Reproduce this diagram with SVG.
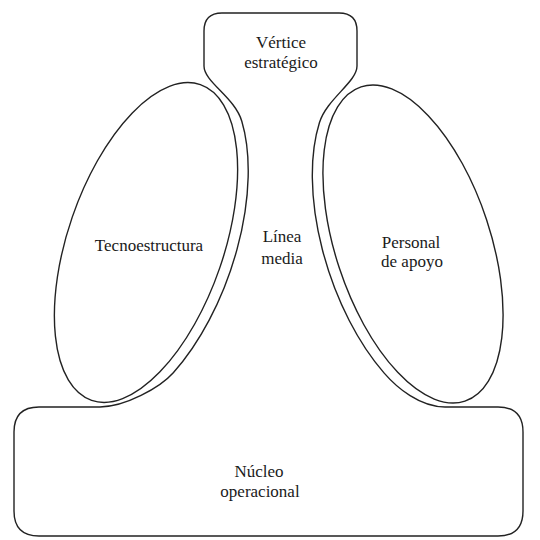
<svg xmlns="http://www.w3.org/2000/svg" width="540" height="540" viewBox="0 0 540 540">
<style>
.ln{fill:none;stroke:#222;stroke-width:1.4;stroke-linejoin:round}
.t{font-family:"Liberation Serif","Times New Roman",Times,Tinos,"Noto Serif","DejaVu Serif",FreeSerif,serif;font-size:17px;fill:#1a1a1a;text-anchor:middle}
</style>
<rect width="540" height="540" fill="#fff"/>
<g id="outline">
<path class="ln" d="M 204,66 L 204,31 Q 204,13 222,13 L 339,13 Q 357,13 357,31 L 357,66 C 357,82 326.8,98.7 319.4,122.7 A 88.5 176.5 -18.3 0 0 384.2 373.1 C 397.2,388.1 420,407 445,407 L 498,407 Q 523,407 523,432 L 523,511 Q 523,536 498,536 L 39,536 Q 14,536 14,511 L 14,432 Q 14,407 39,407 L 100,407 C 125,407 160,387.7 173.3,372.8 A 89 178 19 0 0 241.8 121.2 C 234.7,97.2 204,82 204,66 Z"/>
</g>
<g id="vertice-estrategico">
<text class="t" x="281" y="48">Vértice</text>
<text class="t" x="281" y="68">estratégico</text>
</g>
<g id="tecnoestructura">
<ellipse class="ln" cx="146" cy="242.5" rx="78" ry="167" transform="rotate(19 146 242.5)"/>
<text class="t" x="149" y="251">Tecnoestructura</text>
</g>
<g id="linea-media">
<text class="t" x="282" y="242">Línea</text>
<text class="t" x="282" y="264">media</text>
</g>
<g id="personal-de-apoyo">
<ellipse class="ln" cx="413" cy="244" rx="77.5" ry="165.5" transform="rotate(-18.3 413 244)"/>
<text class="t" x="411" y="248">Personal</text>
<text class="t" x="412" y="267">de apoyo</text>
</g>
<g id="nucleo-operacional">
<text class="t" x="259" y="477">Núcleo</text>
<text class="t" x="260" y="497">operacional</text>
</g>
<g id="connectors"/>
</svg>
